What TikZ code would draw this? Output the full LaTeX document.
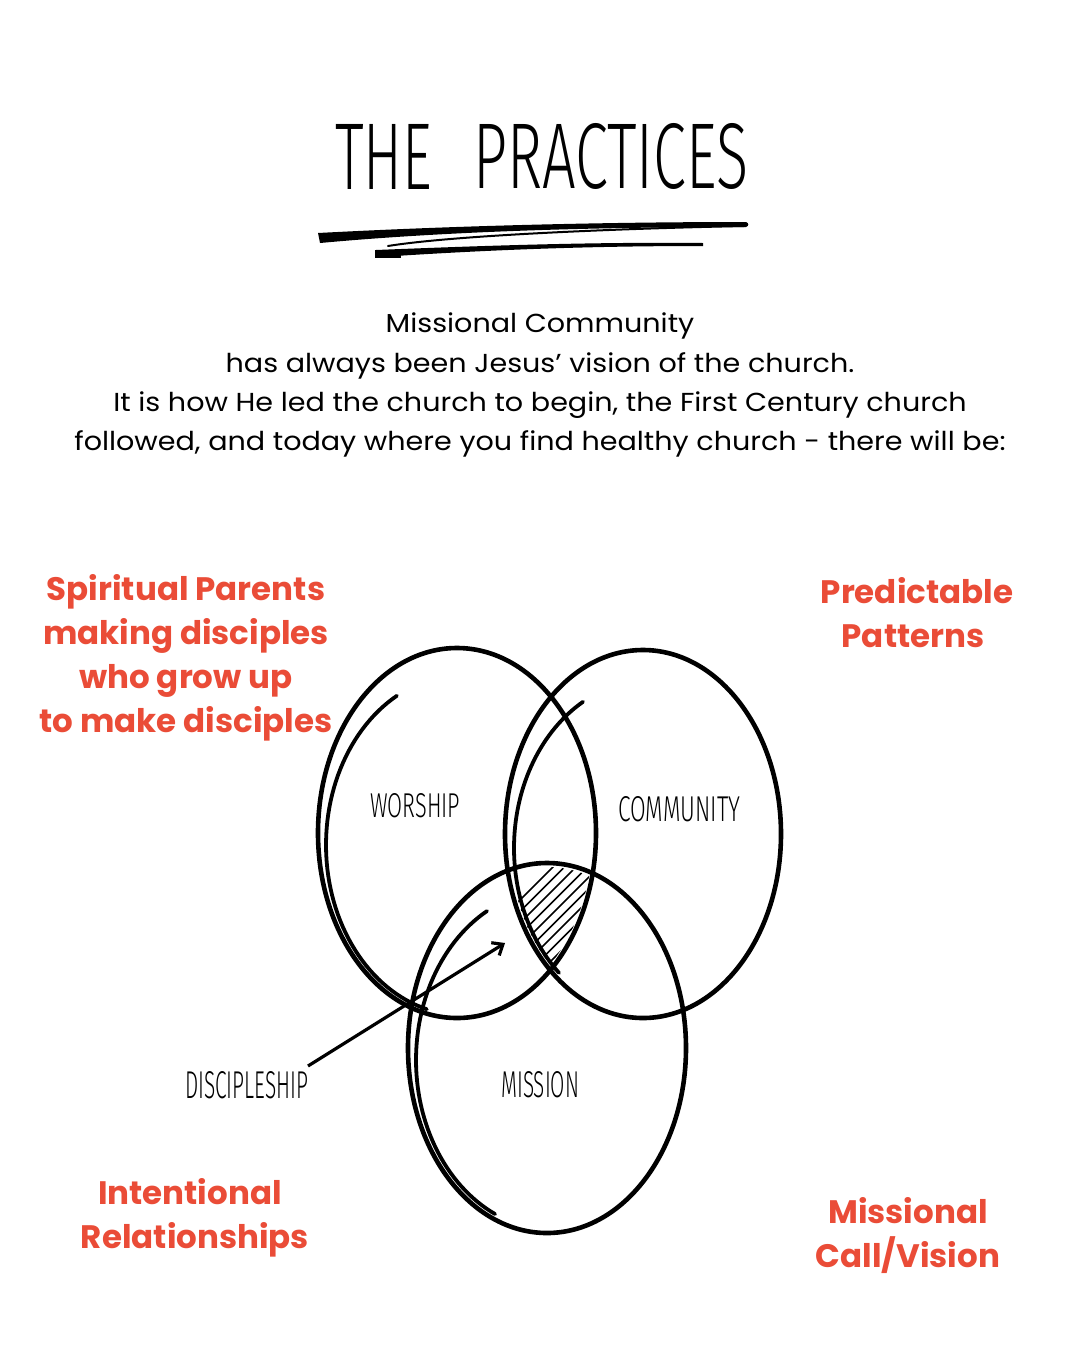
\documentclass[tikz,border=0pt]{standalone}
\usepackage{fontspec}
\usepackage{graphicx}
\usetikzlibrary{arrows.meta}
\newfontfamily\bodyf{Poppins}[FakeStretch=1.1]
\newfontfamily\redf{Poppins}
\IfFontExistsTF{Fira Sans Light}{\newfontfamily\hand{Fira Sans Light}}{\newfontfamily\hand{Fira Sans}}
\definecolor{labred}{RGB}{234,76,55}
\tikzset{
  body/.style={anchor=base, inner sep=0pt, font=\bodyf\fontsize{26}{30}\selectfont, text=black},
  redlab/.style={anchor=base, inner sep=0pt, font=\redf\bfseries\fontsize{32.5}{40}\selectfont, text=labred},
  handlab/.style={anchor=south west, inner sep=0pt, font=\hand},
  ring/.style={line width=4.6pt, black},
  ringin/.style={line width=3.8pt, black, line cap=round},
  hatchline/.style={line width=1.7pt, black}
}
\begin{document}
\begin{tikzpicture}[x=1pt,y=-1pt]
\useasboundingbox[fill=white] (0,0) rectangle (1080,1350);

% Title
\node[handlab] (t1) at (335,190) {\resizebox{97pt}{65pt}{THE}};
\node[handlab] (t2) at (473,190) {\resizebox{275pt}{65pt}{PRACTICES}};

% brush underline
\fill (318,233) .. controls (450,226) and (600,222) .. (746,222)
      .. controls (749,223) and (749,226) .. (746,227)
      .. controls (600,227) and (450,231) .. (320,243) -- cycle;
\draw[line width=2pt, line cap=round] (744,226) .. controls (600,229) and (450,236) .. (388,246);
\fill (376,250) .. controls (500,245) and (600,242) .. (703,243)
      -- (703,246) .. controls (600,246) and (500,249) .. (380,257) -- cycle;
\fill (375,250) rectangle (401,258);

% Body text
\node[body] (b1) at (540,332) {Missional Community};
\node[body] (b2) at (540,372) {has always been Jesus’ vision of the church.};
\node[body] (b3) at (540,411) {It is how He led the church to begin, the First Century church};
\node[body] (b4) at (540,450) {followed, and today where you find healthy church - there will be:};

% Red labels
\node[redlab] (sp1) at (186,600) {Spiritual Parents};
\node[redlab] (sp2) at (186,644) {making disciples};
\node[redlab] (sp3) at (186,688) {who grow up};
\node[redlab] (sp4) at (186,732) {to make disciples};
\node[redlab] (pp1) at (917,603) {Predictable};
\node[redlab] (pp2) at (913,647) {Patterns};
\node[redlab] (ir1) at (190,1204) {Intentional};
\node[redlab] (ir2) at (195,1248) {Relationships};
\node[redlab] (mc1) at (908,1223) {Missional};
\node[redlab] (mc2) at (908,1267) {Call/Vision};

% Hatching in triple overlap
\begin{scope}
  \clip (547,1048) ellipse [x radius=136, y radius=181];
  \clip (457,833) ellipse [x radius=136, y radius=181];
  \clip plot[domain=0:360, samples=120] ({650+139*cos(\x)},{848-168*sin(\x)});
  \foreach \k in {0,...,22} {
    \draw[hatchline] ({420+11.5*\k},1000) -- ({420+11.5*\k+160},840);
  }
\end{scope}

% Ellipses
\draw[ring] (457,833) ellipse [x radius=139, y radius=185];
\draw[ring] (643,834) ellipse [x radius=138, y radius=184];
\draw[ring] (547,1048) ellipse [x radius=139, y radius=185];
% inner strokes
\draw[ringin] plot[domain=118.6:255, samples=60] ({462+136*cos(\x)},{845-170*sin(\x)});
\draw[ringin] plot[domain=119.5:228, samples=60] ({650+136*cos(\x)},{848-168*sin(\x)});
\draw[ringin] plot[domain=118.8:245, samples=60] ({553+137*cos(\x)},{1060-170*sin(\x)});

% Handwritten labels
\node[handlab] (worship) at (370,818) {\resizebox{90pt}{24pt}{WORSHIP}};
\node[handlab] (community) at (618,822) {\resizebox{122pt}{25pt}{COMMUNITY}};
\node[handlab] (mission) at (501,1098) {\resizebox{78pt}{26pt}{MISSION}};
\node[handlab] (disc) at (185,1099) {\resizebox{123pt}{27pt}{DISCIPLESHIP}};

% Arrow
\coordinate (arrstart) at (308,1066);
\coordinate (arrtip) at (505,943);
\draw[line width=3.2pt, -{Straight Barb[length=9pt,width=15pt]}] (arrstart) -- (arrtip);
\end{tikzpicture}
\end{document}
